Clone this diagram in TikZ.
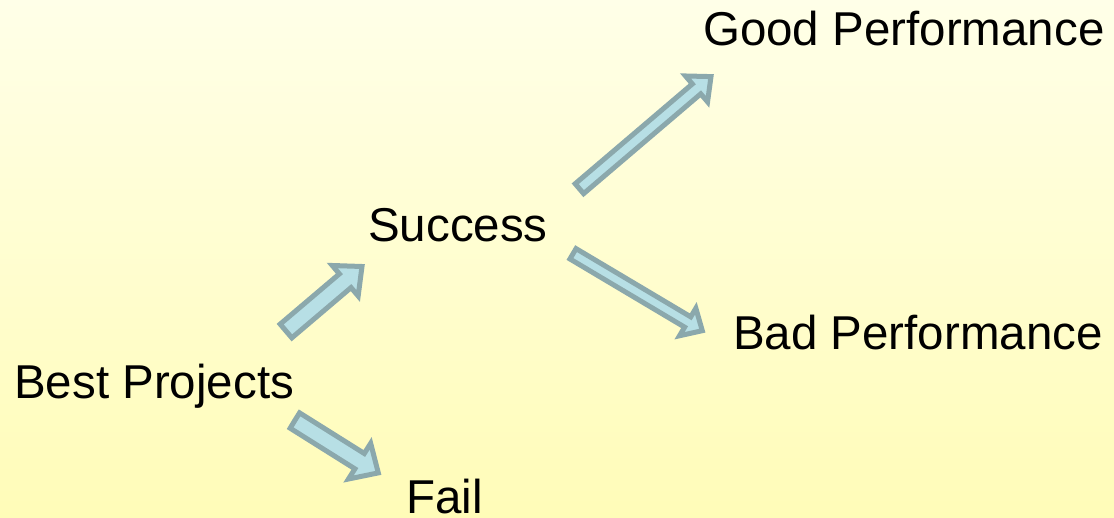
\documentclass[tikz,border=0pt]{standalone}
\usepackage{fontspec}
\setmainfont{Liberation Sans}
\usetikzlibrary{calc}
\definecolor{bgtop}{RGB}{255,255,232}
\definecolor{bgbottom}{RGB}{255,252,184}
\definecolor{arrowfill}{RGB}{183,223,229}
\definecolor{arrowline}{RGB}{139,168,172}
\tikzset{
  lbl/.style={anchor=base west,inner sep=0pt,font=\fontsize{47.5}{56}\selectfont},
  blockarr/.style={draw=arrowline,fill=arrowfill,line width=5pt,line join=miter}
}
% block arrow: from, to, shaft half width, head half width, head length
\newcommand{\blockarrow}[5]{%
  \draw[blockarr] let \p1=($(#2)-(#1)$), \n1={atan2(\y1,\x1)}, \n2={veclen(\x1,\y1)-#5} in
    (#1) -- ++(\n1+90:#3) -- ++(\n1:\n2) -- ++(\n1+90:#4-#3) -- (#2)
    -- ($(#2)+(\n1+180:#5)+(\n1-90:#4)$) -- ++(\n1+90:#4-#3) -- ++(\n1+180:\n2) -- cycle;}
\begin{document}
\begin{tikzpicture}[x=1pt,y=1pt]
  \useasboundingbox (0,0) rectangle (1114,517);
  \shade[top color=bgtop,bottom color=bgbottom] (0,0) rectangle (1114,517);
  % labels
  \node[lbl] (good) at (703,471) {Good Performance};
  \node[lbl] (success) at (368,275) {Success};
  \node[lbl] (bad) at (733,167) {Bad Performance};
  \node[lbl] (best) at (14,118) {Best Projects};
  \node[lbl] (fail) at (406,4) {Fail};
  % arrow ends
  \coordinate (best-s) at (286,186);   \coordinate (succ-e) at (362,250.5);
  \coordinate (succ-g) at (579.4,328.3); \coordinate (good-e) at (711,440.4);
  \coordinate (succ-b) at (573,263.2); \coordinate (bad-e) at (702.3,186.3);
  \coordinate (best-f) at (294.8,96.5); \coordinate (fail-e) at (378.3,44.1);
  \blockarrow{best-s}{succ-e}{9}{20}{22}
  \blockarrow{succ-g}{good-e}{6.5}{17}{19}
  \blockarrow{succ-b}{bad-e}{6}{16}{17}
  \blockarrow{best-f}{fail-e}{9}{21}{22}
\end{tikzpicture}
\end{document}
